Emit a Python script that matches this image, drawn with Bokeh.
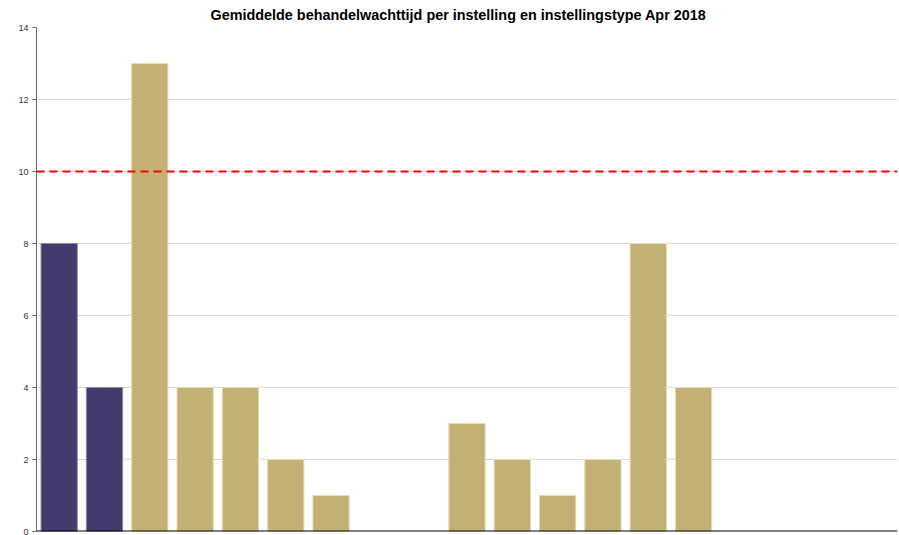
from bokeh.plotting import figure
from bokeh.models import Range1d, Span, ColumnDataSource, FactorRange, FixedTicker
from bokeh.transform import factor_cmap
from bokeh.embed import file_html
from bokeh.resources import INLINE

# Data
categories = [f"Instelling {i}" for i in range(1, 20)]
values = [8, 4, 13, 4, 4, 2, 1, float("nan"), float("nan"), 3, 2, 1, 2, 8, 4,
          float("nan"), float("nan"), float("nan"), float("nan")]
types = ["Instellingstype", "Instellingstype"] + ["Instelling"] * 17
norm_value = 10
y_ticks = [0, 2, 4, 6, 8, 10, 12, 14]
title_text = "Gemiddelde behandelwachttijd per instelling en instellingstype Apr 2018"

source = ColumnDataSource(dict(cat=categories, val=values, typ=types))

p = figure(width=899, height=535, output_backend="svg", toolbar_location=None,
           x_range=FactorRange(*categories), y_range=Range1d(0, 14),
           min_border_left=36, min_border_right=2, min_border_top=0, min_border_bottom=4)

p.title.text = title_text
p.title.align = "left"
p.title.text_font = "Liberation Sans"
p.title.text_font_size = "14.4px"
p.title.text_font_style = "bold"
p.title.text_color = "#000000"
p.title.standoff = 9
p.title.offset = 174

p.vbar(x="cat", top="val", width=0.8, source=source,
       fill_color=factor_cmap("typ", ["#433a6e", "#c2b074"], ["Instellingstype", "Instelling"]),
       line_color=factor_cmap("typ", ["#8a83a8", "#e6dab0"], ["Instellingstype", "Instelling"]),
       line_width=1)

p.add_layout(Span(location=norm_value, dimension="width", line_color="#ff0000",
                  line_width=2, line_dash="8 5"))
p.add_layout(Span(location=0, dimension="width", line_color="#000000", line_width=2))

p.yaxis.ticker = FixedTicker(ticks=y_ticks)
p.yaxis.major_label_text_font = "Liberation Sans"
p.yaxis.major_label_text_font_size = "9px"
p.yaxis.major_label_text_color = "#333333"
p.yaxis.axis_line_color = "#666666"
p.yaxis.axis_line_width = 1
p.yaxis.major_tick_line_color = "#666666"
p.yaxis.major_tick_in = 0
p.yaxis.major_tick_out = 4
p.yaxis.minor_tick_line_color = None
p.yaxis.major_label_standoff = 4

p.xaxis.visible = False

p.xgrid.grid_line_color = None
p.ygrid.grid_line_color = "#d8d8d8"
p.ygrid.ticker = FixedTicker(ticks=y_ticks)
p.outline_line_color = None
p.x_range.range_padding = 0
p.background_fill_color = "white"

open("out.html", "w").write(file_html(p, INLINE))
